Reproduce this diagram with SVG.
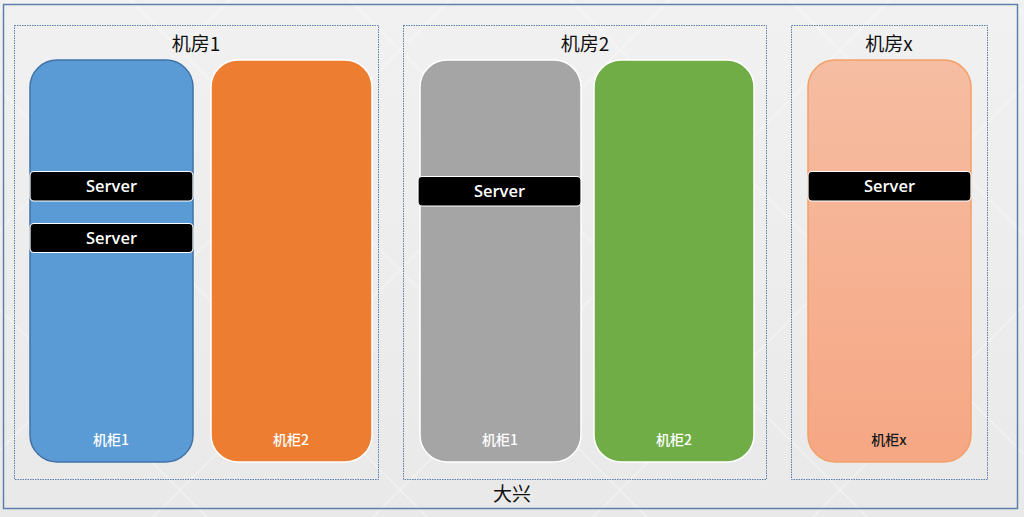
<svg xmlns="http://www.w3.org/2000/svg" width="1024" height="517" viewBox="0 0 1024 517">
<defs>
<style>
.room{fill:none;stroke:#5A7FAF;stroke-width:1;stroke-dasharray:1.5 1}
.title{font-family:"Noto Sans CJK SC","Noto Sans",sans-serif;font-size:19px;fill:#111;text-anchor:middle}
.cab{stroke-width:1.5}
.cablabel{font-family:"Noto Sans CJK SC","Noto Sans",sans-serif;font-size:14px;font-weight:500;fill:#fff;text-anchor:middle}
.srv{fill:#000;stroke:#fff;stroke-width:1.2}
.srvtxt{font-family:"Open Sans","Noto Sans",sans-serif;font-size:16.5px;font-weight:600;fill:#fff;text-anchor:middle}
</style>
<linearGradient id="bg" x1="0" y1="0" x2="0" y2="1">
<stop offset="0" stop-color="#F1F1F1"/>
<stop offset="1" stop-color="#E9E9E9"/>
</linearGradient>
<linearGradient id="salmon" x1="0" y1="0" x2="0" y2="1">
<stop offset="0" stop-color="#F6BDA2"/>
<stop offset="1" stop-color="#F6A784"/>
</linearGradient>
<pattern id="dia" width="220" height="220" patternUnits="userSpaceOnUse" x="-40" y="-60">
<path d="M0 110 L110 0 L220 110 L110 220 Z" fill="none" stroke="#FFFFFF" stroke-opacity="0.35" stroke-width="1.5"/>
</pattern>
</defs>
<rect x="0" y="0" width="1024" height="517" fill="url(#bg)"/>
<rect x="0" y="0" width="1024" height="517" fill="url(#dia)"/>
<g id="datacenter">
<rect x="3.5" y="4.5" width="1014" height="504" fill="none" stroke="#5B82AE" stroke-width="1.5"/>
<text class="title" x="512" y="501">大兴</text>
</g>
<g id="room1">
<rect class="room" x="14.5" y="25.5" width="364" height="454"/>
<text class="title" x="196" y="51">机房1</text>
</g>
<g id="room2">
<rect class="room" x="403.5" y="25.5" width="363" height="454"/>
<text class="title" x="585" y="51">机房2</text>
</g>
<g id="roomx">
<rect class="room" x="791.5" y="25.5" width="196" height="454"/>
<text class="title" x="889" y="51">机房x</text>
</g>
<g id="room1-cab1">
<rect class="cab" x="30" y="60" width="163" height="402" rx="27" fill="#5B9BD5" stroke="#4273A8"/>
<text class="cablabel" x="111" y="445">机柜1</text>
</g>
<g id="room1-cab2">
<rect class="cab" x="211" y="60" width="161" height="402" rx="27" fill="#ED7D31" stroke="#FFFFFF"/>
<text class="cablabel" x="291" y="445">机柜2</text>
</g>
<g id="room2-cab1">
<rect class="cab" x="420" y="60" width="161" height="402" rx="27" fill="#A5A5A5" stroke="#FFFFFF"/>
<text class="cablabel" x="500" y="445">机柜1</text>
</g>
<g id="room2-cab2">
<rect class="cab" x="594" y="60" width="160" height="402" rx="27" fill="#70AD47" stroke="#FFFFFF"/>
<text class="cablabel" x="674" y="445">机柜2</text>
</g>
<g id="roomx-cabx">
<rect class="cab" x="808" y="60" width="163" height="402" rx="27" fill="url(#salmon)" stroke="#F2A066"/>
<text class="cablabel" x="889" y="445" style="fill:#1A1A1A">机柜x</text>
</g>
<g id="server-r1c1-a">
<rect class="srv" x="30" y="171.5" width="163" height="29.5" rx="4"/>
<text class="srvtxt" x="111.5" y="192">Server</text>
</g>
<g id="server-r1c1-b">
<rect class="srv" x="30" y="223.5" width="163" height="29" rx="4"/>
<text class="srvtxt" x="111.5" y="244">Server</text>
</g>
<g id="server-r2c1">
<rect class="srv" x="418" y="176.5" width="163" height="29.5" rx="4"/>
<text class="srvtxt" x="499.5" y="197">Server</text>
</g>
<g id="server-rxcx">
<rect class="srv" x="808" y="171.5" width="163" height="29.5" rx="4"/>
<text class="srvtxt" x="889.5" y="192">Server</text>
</g>
<g id="connectors"></g>
</svg>
